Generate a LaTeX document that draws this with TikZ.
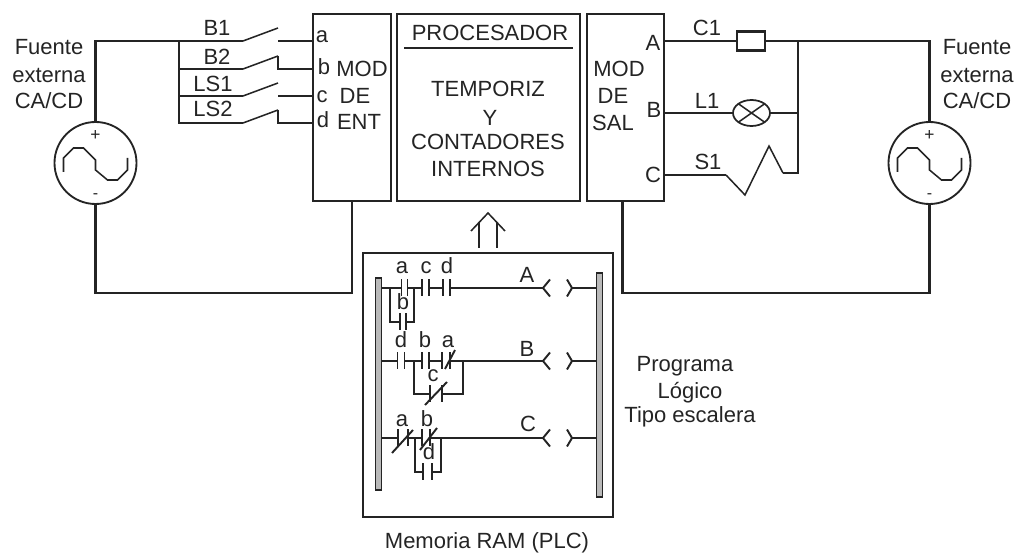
\documentclass[tikz,border=0pt]{standalone}
\usepackage{fontspec}
\setmainfont{Liberation Sans}
\usetikzlibrary{shapes.geometric,calc}
\definecolor{ink}{gray}{0.14}
\newcommand\etq[4]{\node[lbl] (#1) at (#2,#3) {#4};}
\newcommand\contact[4]{\node[contact,minimum width=#4*0.75pt] (#1) at (#2,#3) {};
  \draw[ldr] (#1.north west)--(#1.south west) (#1.north east)--(#1.south east);}
\newcommand\coil[2]{\node[contact,minimum width=29*0.75pt] (#1) at (557.5,#2) {};
  \draw[ldr] ($(#1.north west)+(7,0)$)--(#1.west)--($(#1.south west)+(7,0)$)
             ($(#1.north east)+(-5,0)$)--(#1.east)--($(#1.south east)+(-5,0)$);}
\tikzset{
  wire/.style={draw=ink,line width=1.6pt,line join=miter},
  thin wire/.style={draw=ink,line width=1.15pt},
  ldr/.style={draw=ink,line width=1.45pt},
  box/.style={draw=ink,line width=1.6pt,rectangle,inner sep=0pt,outer sep=0pt},
  lbl/.style={anchor=base,inner sep=0pt,outer sep=0pt,text=ink,font=\fontsize{16.5pt}{18pt}\selectfont},
  srcnode/.style={circle,draw=ink,line width=1.4pt,minimum size=82*0.75pt,inner sep=0pt,outer sep=0pt},
  contact/.style={rectangle,inner sep=0pt,outer sep=0pt,minimum height=17*0.75pt},
  rail/.style={rectangle,draw=ink,fill=gray!55,line width=1.2pt,inner sep=0pt,outer sep=0pt,minimum width=6*0.75pt},
  acwave/.pic={\draw[thin wire] (-32,9)--(-32,-5)--(-22,-15)--(-12,-15)--(0,-3)--(0,7)--(12,17)--(22,17)--(32,7)--(32,-5);},
}
\begin{document}
\begin{tikzpicture}[x=0.75pt,y=-0.75pt]
\useasboundingbox (0,0) rectangle (1021,555);
% main boxes
\node[box,minimum width=78*0.75pt,minimum height=187*0.75pt] (modent) at (352,107.5) {};
\node[box,minimum width=183*0.75pt,minimum height=187*0.75pt] (proc) at (488.5,107.5) {};
\node[box,minimum width=77*0.75pt,minimum height=187*0.75pt] (modsal) at (625.5,107.5) {};
\node[box,minimum width=250*0.75pt,minimum height=264*0.75pt] (mem) at (488,385) {};
% sources
\node[srcnode] (srcL) at (95.5,163) {};
\node[srcnode] (srcR) at (929.5,163) {};
\pic at (srcL) {acwave};
\pic at (srcR) {acwave};
\etq{pL}{95.5}{141}{\fontsize{13pt}{13pt}\selectfont +}
\etq{mL}{95.5}{199}{\fontsize{12pt}{12pt}\selectfont -}
\etq{pR}{929.5}{141}{\fontsize{13pt}{13pt}\selectfont +}
\etq{mR}{929.5}{199}{\fontsize{12pt}{12pt}\selectfont -}
% input wiring
\coordinate (tl) at (95.5,41);
\coordinate (j1) at (179,41);
\coordinate (j2) at (179,69);
\coordinate (j3) at (179,96);
\coordinate (j4) at (179,123);
\coordinate (s1) at (243,41);  \coordinate (e1) at (278,28);  \coordinate (f1) at (278,41);
\coordinate (s2) at (243,69);  \coordinate (e2) at (278,56);
\coordinate (s3) at (243,96);  \coordinate (e3) at (278,83);  \coordinate (f3) at (278,96);
\coordinate (s4) at (243,123); \coordinate (e4) at (278,110);
\draw[wire] (srcL.north) -- (tl) -- (s1);
\draw[wire] (j1) -- (j4) -- (s4);
\draw[wire] (j2) -- (s2);
\draw[wire] (j3) -- (s3);
\draw[thin wire] (s1) -- (e1);
\draw[thin wire] (s2) -- (e2);
\draw[thin wire] (s3) -- (e3);
\draw[thin wire] (s4) -- (e4);
\draw[wire] (f1) -- (f1 -| modent.west);
\draw[wire] (e2) -- (e2 |- s2) -- (s2 -| modent.west);
\draw[wire] (f3) -- (f3 -| modent.west);
\draw[wire] (e4) -- (e4 |- s4) -- (s4 -| modent.west);
% return wiring
\coordinate (bl) at (95.5,293);
\coordinate (br) at (929.5,293);
\draw[wire] (srcL.south) -- (bl) -- (bl -| modent.south) -- (modent.south);
\draw[wire] (srcR.south) -- (br) -- (622.5,293) -- (622.5,201);
% output wiring
\node[box,minimum width=28*0.75pt,minimum height=19*0.75pt] (fuse) at (751,41) {};
\node[ellipse,draw=ink,line width=1.3pt,minimum width=37*0.75pt,minimum height=26*0.75pt,inner sep=0pt,outer sep=0pt] (lamp) at (751.5,113) {};
\draw[thin wire] (lamp.north west) -- (lamp.south east) (lamp.north east) -- (lamp.south west);
\coordinate (tr) at (929.5,41);
\coordinate (jA) at (798,41);
\coordinate (jB) at (798,113);
\coordinate (jC) at (798,173);
\draw[wire] (modsal.east |- fuse) -- (fuse.west);
\draw[wire] (fuse.east) -- (tr) -- (srcR.north);
\draw[wire] (modsal.east |- lamp) -- (lamp.west);
\draw[wire] (lamp.east) -- (jB);
\draw[wire] (jA) -- (jC) -- (783,173);
\coordinate (z0) at (726,175);
\draw[wire] (modsal.east |- z0) -- (z0);
\draw[thin wire] (z0) -- (745,195) -- (769,146) -- (783,173);
% processor rule
\coordinate (ru1) at (404,48);
\coordinate (ru2) at (573,48);
\draw[wire] (ru1) -- (ru2);
% arrow
\draw[thin wire] (471,231) -- (488,213) -- (505,231);
\draw[thin wire] (479,222) -- (479,248);
\draw[thin wire] (497,222) -- (497,248);
% rails
\node[rail,minimum height=212*0.75pt] (railL) at (378.5,384) {};
\node[rail,minimum height=224*0.75pt] (railR) at (599.5,385) {};
% rung 1
\contact{r1a}{404.5}{288}{6}
\contact{r1c}{425.5}{288}{7}
\contact{r1d}{446.5}{288}{7}
\coil{coilA}{288}
\draw[ldr] (railL.east |- r1a) -- (r1a.west);
\draw[ldr] (r1a.east) -- (r1c.west);
\draw[ldr] (r1c.east) -- (r1d.west);
\draw[ldr] (r1d.east) -- (coilA.west);
\draw[ldr] (coilA.east) -- (railR.west |- coilA);
\contact{r1b}{403}{322}{6}
\draw[ldr] (390,288) -- (390,322) -- (r1b.west);
\draw[ldr] (r1b.east) -- (414,322) -- (414,288);
% rung 2
\contact{r2d}{401}{361}{7}
\contact{r2b}{425.5}{361}{7}
\contact{r2a}{446}{361}{8}
\coil{coilB}{361}
\draw[ldr] (railL.east |- r2d) -- (r2d.west);
\draw[ldr] (r2d.east) -- (r2b.west);
\draw[ldr] (r2b.east) -- (r2a.west);
\draw[ldr] (r2a.east) -- (coilB.west);
\draw[ldr] (coilB.east) -- (railR.west |- coilB);
\draw[ldr] (445,369) -- (455,350);
\contact{r2c}{436}{394}{12}
\draw[ldr] (414,361) -- (414,394) -- (r2c.west);
\draw[ldr] (r2c.east) -- (463,394) -- (463,361);
\draw[ldr] (425,405) -- (447,382);
% rung 3
\contact{r3a}{403}{438}{10}
\contact{r3b}{426}{438}{8}
\coil{coilC}{438}
\draw[ldr] (railL.east |- r3a) -- (r3a.west);
\draw[ldr] (r3a.east) -- (r3b.west);
\draw[ldr] (r3b.east) -- (coilC.west);
\draw[ldr] (coilC.east) -- (railR.west |- coilC);
\draw[ldr] (392,453) -- (413,430);
\draw[ldr] (420,450) -- (437,428);
\contact{r3d}{427.5}{472}{9}
\draw[ldr] (415,438) -- (415,472) -- (r3d.west);
\draw[ldr] (r3d.east) -- (441,472) -- (441,438);
% texts
\etq{fL1}{49}{55}{Fuente}
\etq{fL2}{49}{83}{externa}
\etq{fL3}{49}{109}{CA/CD}
\etq{fR1}{977}{55}{Fuente}
\etq{fR2}{977}{83}{externa}
\etq{fR3}{977}{109}{CA/CD}
\etq{B1}{217}{36}{B1}
\etq{B2}{217}{65}{B2}
\etq{LS1}{213}{92}{LS1}
\etq{LS2}{213}{117}{LS2}
\etq{ta}{322}{43}{a}
\etq{tb}{324}{75}{b}
\etq{tc}{322}{103}{c}
\etq{td}{323}{128}{d}
\etq{me1}{362}{77}{MOD}
\etq{me2}{355}{104}{DE}
\etq{me3}{359}{130}{ENT}
\etq{pr1}{490}{41}{PROCESADOR}
\etq{pr2}{488}{97}{TEMPORIZ}
\etq{pr3}{490}{126}{Y}
\etq{pr4}{488}{150}{CONTADORES}
\etq{pr5}{488}{177}{INTERNOS}
\etq{ms1}{619}{77}{MOD}
\etq{ms2}{613}{104}{DE}
\etq{ms3}{613}{131}{SAL}
\etq{tA}{653}{51}{A}
\etq{tB}{654}{118}{B}
\etq{tC}{653}{183}{C}
\etq{C1}{707}{36}{C1}
\etq{L1}{707}{109}{L1}
\etq{S1}{708}{170}{S1}
\etq{l1a}{402}{274}{a}
\etq{l1c}{426}{274}{c}
\etq{l1d}{447}{274}{d}
\etq{l1b}{403}{310}{b}
\etq{lA}{527}{283}{A}
\etq{l2d}{401}{348}{d}
\etq{l2b}{425}{348}{b}
\etq{l2a}{448}{348}{a}
\etq{l2c}{433}{382}{c}
\etq{lB}{527}{357}{B}
\etq{l3a}{402}{427}{a}
\etq{l3b}{427}{427}{b}
\etq{l3d}{429}{460}{d}
\etq{lC}{528}{432}{C}
\etq{pg1}{685}{372}{Programa}
\etq{pg2}{690}{399}{Lógico}
\etq{pg3}{690}{423}{Tipo escalera}
\etq{ram}{487}{549}{Memoria RAM (PLC)}
\end{tikzpicture}
\end{document}
